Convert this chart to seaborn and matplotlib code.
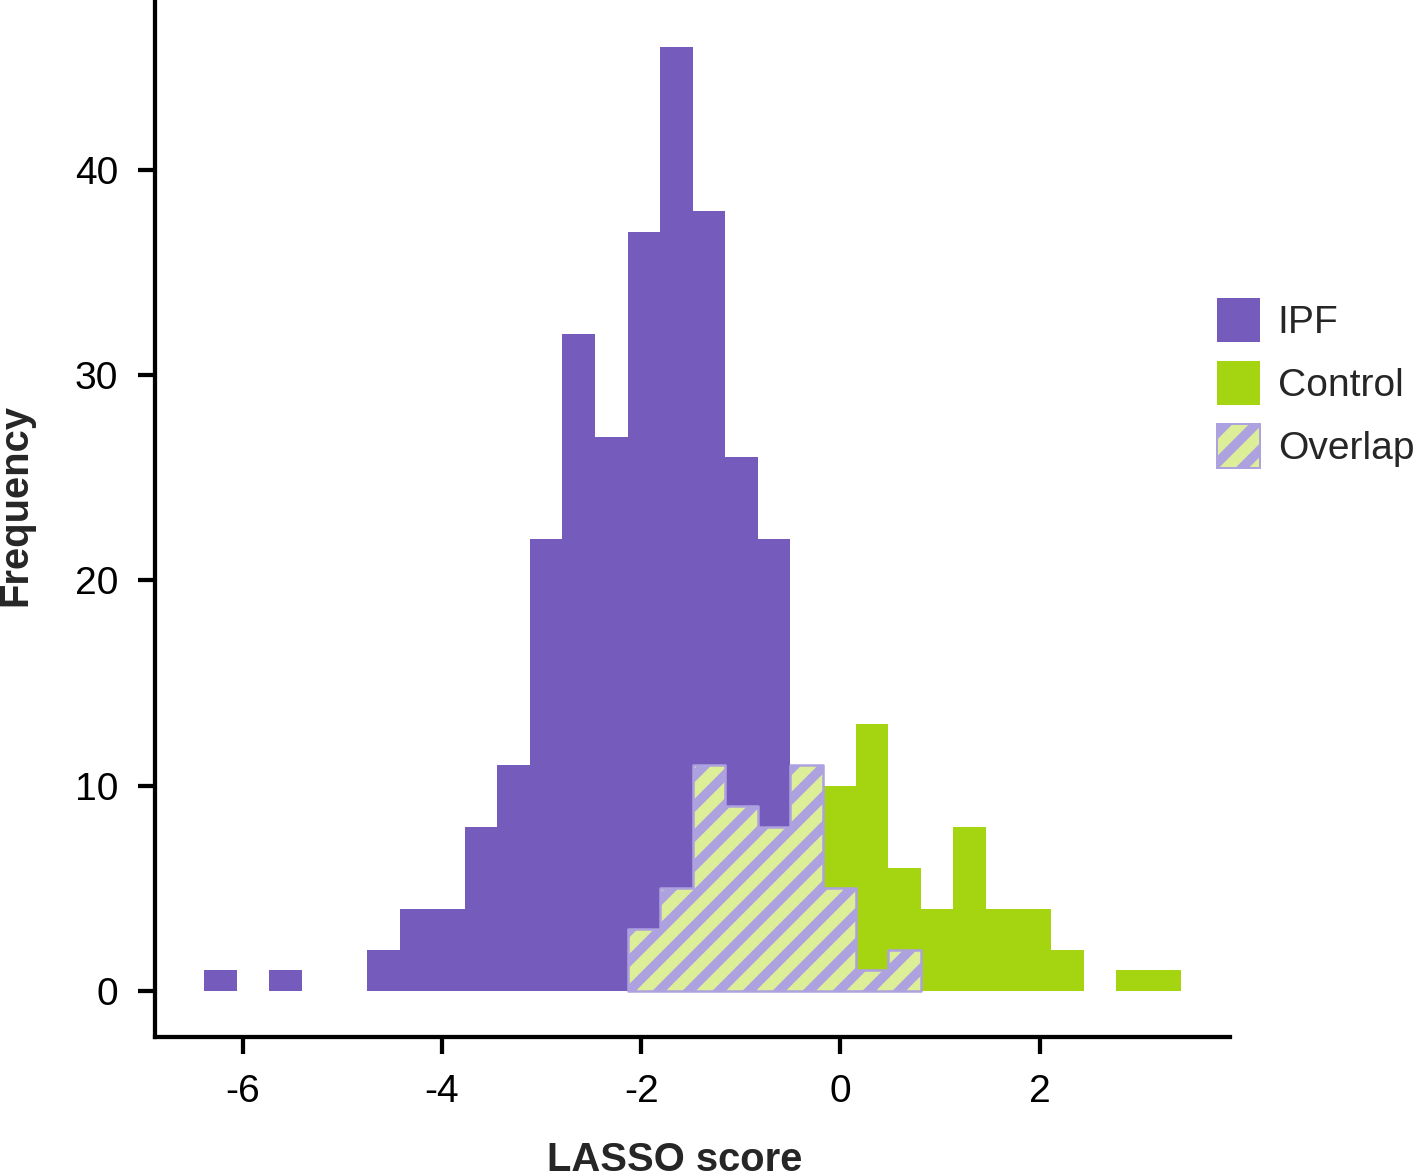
import numpy as np
import matplotlib
matplotlib.use('Agg')
import matplotlib.pyplot as plt
from matplotlib.patches import Patch
import seaborn as sns

### Données ###
# Classes de l'histogramme (score LASSO)
bin_start = -6.386
bin_width = 0.3269
n_bins = 30

# Effectifs par classe
ipf_counts = [1, 0, 1, 0, 0, 2, 4, 4, 8, 11, 22, 32, 27, 37, 46,
              38, 26, 22, 11, 5, 1, 2, 0, 0, 0, 0, 0, 0, 0, 0]
control_counts = [0, 0, 0, 0, 0, 0, 0, 0, 0, 0, 0, 0, 0, 3, 5,
                  11, 9, 8, 11, 10, 13, 6, 4, 8, 4, 4, 2, 0, 1, 1]

labels = ['IPF', 'Control', 'Overlap']
x_ticks = [-6, -4, -2, 0, 2]
y_ticks = [0, 10, 20, 30, 40]

# Couleurs
ipf_color = '#755bbb'
control_color = '#a5d411'
overlap_face = '#ddee98'
overlap_hatch = '#ada1e0'

### Préparation ###
edges = bin_start + bin_width * np.arange(n_bins + 1)
centres = (edges[:-1] + edges[1:]) / 2
overlap_counts = np.minimum(ipf_counts, control_counts)
nz = np.nonzero(overlap_counts)[0]
ov_lo, ov_hi = nz.min(), nz.max() + 1

### Figure ###
sns.set_style('ticks')
plt.rcParams['font.family'] = ['Liberation Sans', 'DejaVu Sans']
plt.rcParams['hatch.color'] = overlap_hatch
plt.rcParams['hatch.linewidth'] = 3.8

fig = plt.figure(figsize=(1418 / 180, 1174 / 180), dpi=180)
ax = fig.add_axes([155 / 1418, 1 - 1037 / 1174, 1075 / 1418, 1037 / 1174])

sns.histplot(x=list(centres), weights=list(ipf_counts), bins=edges.tolist(),
             color=ipf_color, alpha=1, linewidth=0, ax=ax)
sns.histplot(x=list(centres), weights=list(control_counts), bins=edges.tolist(),
             color=control_color, alpha=1, linewidth=0, ax=ax)
# Zone de recouvrement : un seul contour, hachures claires
sns.histplot(x=list(centres[ov_lo:ov_hi]), weights=list(overlap_counts[ov_lo:ov_hi]),
             bins=edges[ov_lo:ov_hi + 1].tolist(), element='step',
             facecolor=overlap_face, edgecolor=overlap_hatch, hatch='//',
             alpha=1, linewidth=1.0, ax=ax)

ax.set_xlim(-6.88, 3.91)
ax.set_ylim(-2.24, 48.28)
ax.set_xticks(x_ticks)
ax.set_yticks(y_ticks)
ax.set_xticklabels([str(t) for t in x_ticks])
ax.set_yticklabels([str(t) for t in y_ticks])

for side in ['top', 'right']:
    ax.spines[side].set_visible(False)
for side in ['left', 'bottom']:
    ax.spines[side].set_linewidth(1.7)
    ax.spines[side].set_color('black')
ax.tick_params(direction='out', length=6.8, width=1.7, pad=8,
               labelsize=15.6, colors='black')

ax.set_xlabel('LASSO score', fontsize=16, fontweight='bold')
ax.set_ylabel('Frequency', fontsize=16, fontweight='bold')
ax.xaxis.set_label_coords(0.483, -0.1)
ax.yaxis.set_label_coords(-0.112, 0.513)

# Légende
handles = [
    Patch(facecolor=ipf_color, edgecolor='none'),
    Patch(facecolor=control_color, edgecolor='none'),
    Patch(facecolor=overlap_face, edgecolor=overlap_hatch, hatch='//', linewidth=0.8),
]
fig.legend(handles, labels, loc='upper left',
           bbox_to_anchor=(1217 / 1418, 1 - 298 / 1174),
           frameon=False, fontsize=15.6, handlelength=1.1, handleheight=1.36,
           handletextpad=0.46, labelspacing=0.49, borderpad=0, borderaxespad=0)

fig.savefig('out.png', dpi=180)
